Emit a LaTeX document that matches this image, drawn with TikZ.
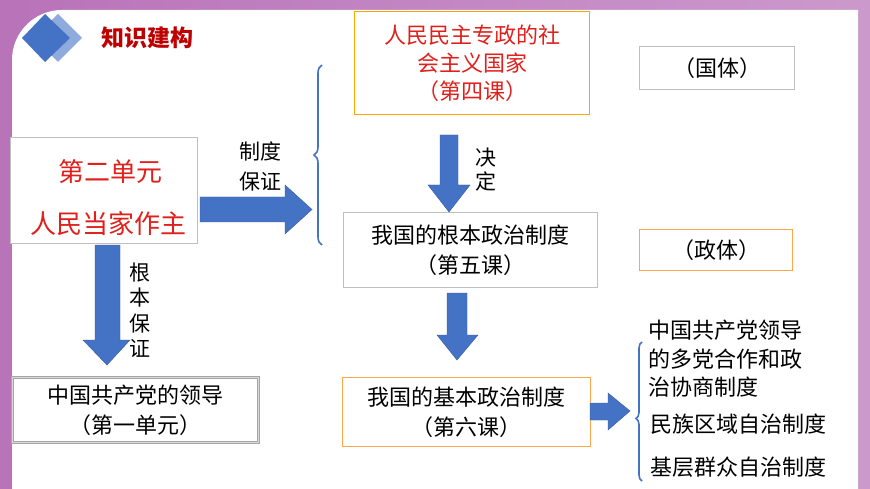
\documentclass[tikz,border=0pt]{standalone}
\usepackage{fontspec}
\setmainfont{Noto Sans CJK SC}
\usetikzlibrary{decorations.pathreplacing}
\definecolor{ablue}{HTML}{4472C4}
\definecolor{tred}{HTML}{E0201B}
\tikzset{
 box/.style={draw=#1,line width=1pt,fill=white},
 arr/.style={fill=ablue,draw=ablue!80!black,line width=0.4pt},
 txt/.style={font=\fontsize{22}{30}\selectfont,align=center},
 br/.style={draw=ablue,line width=1.6pt,decorate,decoration={brace,amplitude=8pt}}
}
\begin{document}
\begin{tikzpicture}[x=1pt,y=-1pt]
\useasboundingbox (0,0) rectangle (870,489);
\fill[left color=violet!55!white,right color=violet!40!white] (0,0) rectangle (870,489);
\fill[white] (12,60) arc(180:270:50) -- (858,10) -- (858,489) -- (12,489) -- cycle;
% title
\fill[ablue!60] (58,14) -- (82,38) -- (58,62) -- (34,38) -- cycle;
\fill[ablue] (45,14) -- (70,38) -- (45,62) -- (22,38) -- cycle;
\node[font=\bfseries\fontsize{23}{23}\selectfont,text=red!75!black,anchor=west] (title) at (98,38) {知识建构};
% boxes
\draw[box=gray!50] (10,138) rectangle (197,243);
\node[text=tred,font=\fontsize{26}{26}\selectfont] (u2a) at (110,172) {第二单元};
\node[text=tred,font=\fontsize{26}{26}\selectfont] (u2b) at (108,224) {人民当家作主};
\node[box=orange!70!yellow,txt,text=tred,minimum width=235pt,minimum height=103pt,inner sep=2pt,font=\fontsize{22}{28}\selectfont] (top) at (472,63) {人民民主专政的社\\会主义国家\\（第四课）};
\node[box=gray!50,txt,minimum width=155pt,minimum height=43pt] (gt) at (717,68) {（国体）};
\node[box=gray!50,txt,minimum width=254pt,minimum height=75pt] (gb) at (470,250) {我国的根本政治制度\\（第五课）};
\node[box=orange!70,txt,minimum width=153pt,minimum height=41pt] (zt) at (716,250) {（政体）};
\node[box=orange!70,txt,minimum width=248pt,minimum height=69pt] (jb) at (466,412) {我国的基本政治制度\\（第六课）};
\node[draw=gray!70,double=gray!30,double distance=1pt,line width=1pt,fill=white,txt,minimum width=246pt,minimum height=65pt] (dl) at (135,410) {中国共产党的领导\\（第一单元）};
% arrows
\draw[arr] (200,197) -- (285,197) -- (285,185) -- (312,209.5) -- (285,234) -- (285,222) -- (200,222) -- cycle;
\draw[arr] (95,245) -- (95,340) -- (83,340) -- (107,365) -- (130,340) -- (120,340) -- (120,245) -- cycle;
\draw[arr] (440,135) -- (440,185) -- (428,185) -- (449,212) -- (470,185) -- (458,185) -- (458,135) -- cycle;
\draw[arr] (447,293) -- (447,335) -- (437,335) -- (457,360) -- (478,335) -- (467,335) -- (467,293) -- cycle;
\draw[arr] (590,403) -- (608,403) -- (608,393) -- (630,411) -- (608,430) -- (608,420) -- (590,420) -- cycle;
% labels
\node[txt,font=\fontsize{21}{30}\selectfont] (l1) at (260,166) {制度\\保证};
\node[txt,font=\fontsize{21}{25.5}\selectfont] (l2) at (140,310) {根\\本\\保\\证};
\node[txt,font=\fontsize{21}{24}\selectfont] (l3) at (486,170) {决\\定};
% braces
\coordinate (b1t) at (322,65); \coordinate (b1b) at (322,245);
\draw[br] (b1b) -- (b1t);
\coordinate (b2t) at (642,342); \coordinate (b2b) at (642,481);
\draw[br,decoration={brace,amplitude=6pt,aspect=0.45}] (b2b) -- (b2t);
% right texts
\node[anchor=north west,font=\fontsize{22}{28.5}\selectfont,align=left,inner sep=0pt] (r1) at (648,320) {中国共产党领导\\的多党合作和政\\治协商制度};
\node[anchor=west,font=\fontsize{22}{22}\selectfont,inner sep=0pt] (r2) at (650,424) {民族区域自治制度};
\node[anchor=west,font=\fontsize{22}{22}\selectfont,inner sep=0pt] (r3) at (650,467) {基层群众自治制度};
\end{tikzpicture}
\end{document}
